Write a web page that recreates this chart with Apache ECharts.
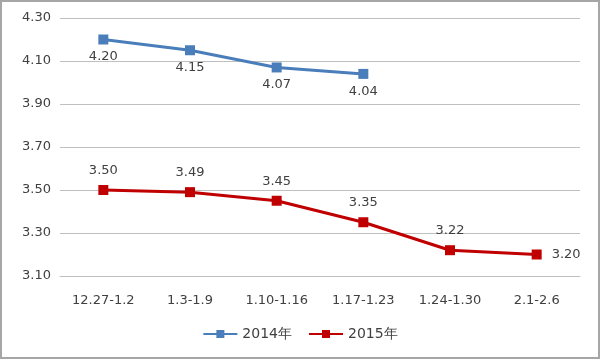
<!DOCTYPE html>
<html><head><meta charset="utf-8">
<script src="https://cdn.jsdelivr.net/npm/echarts@6/dist/echarts.min.js"></script>
<style>html,body{margin:0;padding:0;background:#fff}#c{position:absolute;left:0;top:0;width:596px;height:355px;border:2px solid #a6a6a6}</style>
</head><body><div id="c"></div>
<script>
const categories = ['12.27-1.2','1.3-1.9','1.10-1.16','1.17-1.23','1.24-1.30','2.1-2.6'];
const s2014 = [4.20, 4.15, 4.07, 4.04, null, null];
const s2015 = [3.50, 3.49, 3.45, 3.35, 3.22, 3.20];
const chart = echarts.init(document.getElementById('c'));
const font = 'DejaVu Sans';
const d2015 = s2015.map((v,i)=> i===s2015.length-1 ? {value:v,label:{position:'right',distance:10}} : v);
chart.setOption({
  animation:false,
  grid:{left:58,right:18,top:16,bottom:81},
  legend:{bottom:11,left:'center',itemWidth:34,itemHeight:10,itemGap:16,
    textStyle:{fontFamily:font,fontSize:14,color:'#404040'},
    data:['2014年','2015年']},
  xAxis:{type:'category',data:categories,boundaryGap:true,
    axisLine:{lineStyle:{color:'#bfbfbf'}},axisTick:{show:false},
    axisLabel:{margin:18,fontFamily:font,fontSize:13,color:'#404040'}},
  yAxis:{type:'value',min:3.1,max:4.3,interval:0.2,
    axisLabel:{formatter:v=>v.toFixed(2),margin:9,fontFamily:font,fontSize:13,color:'#404040'},
    splitLine:{lineStyle:{color:'#bfbfbf'}}},
  series:[
    {name:'2014年',type:'line',data:s2014,symbol:'rect',symbolSize:10,
     itemStyle:{color:'#4a7ebb'},lineStyle:{width:3,color:'#4a7ebb'},
     label:{show:true,position:'bottom',distance:6,formatter:p=>p.value.toFixed(2),fontFamily:font,fontSize:13,color:'#404040'}},
    {name:'2015年',type:'line',data:d2015,symbol:'rect',symbolSize:10,
     itemStyle:{color:'#c00000'},lineStyle:{width:3,color:'#c00000'},
     label:{show:true,position:'top',distance:8,formatter:p=>p.value.toFixed(2),fontFamily:font,fontSize:13,color:'#404040'}}
  ]
});
</script></body></html>
